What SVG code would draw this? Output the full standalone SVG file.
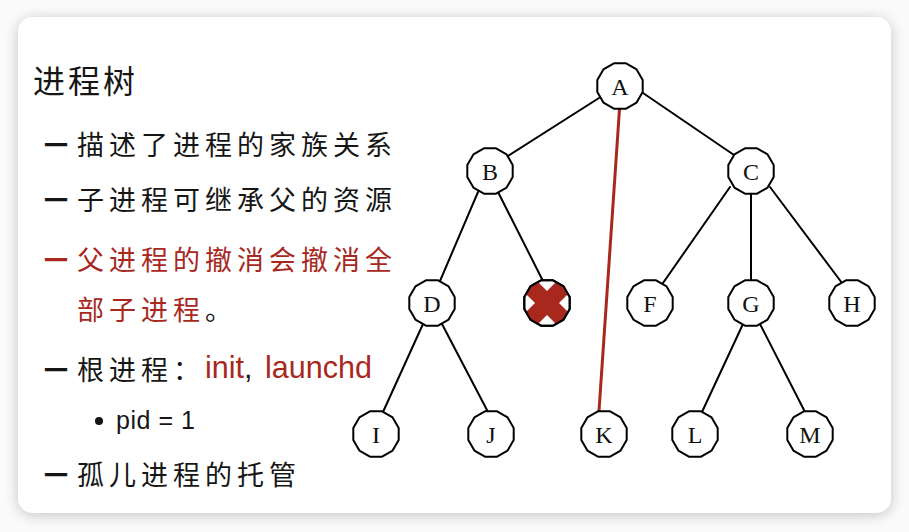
<svg xmlns="http://www.w3.org/2000/svg" xmlns:xlink="http://www.w3.org/1999/xlink" width="909" height="532" viewBox="0 0 909 532">
  <style>
    .cjk { font-family: "Noto Sans CJK SC", "Noto Sans", sans-serif; font-size: 27px; letter-spacing: 5px; fill: #161616; }
    .dash { font-family: "Noto Sans CJK SC", sans-serif; font-size: 24px; font-weight: 700; fill: #161616; }
    .latin { font-family: "Liberation Sans", Arial, sans-serif; fill: #161616; }
    .red { fill: #A8281E; }
    .edge { stroke: #000; stroke-width: 2; fill: none; stroke-linecap: round; }
    .node-shape { fill: #fff; stroke: #000; stroke-width: 2; stroke-linejoin: round; }
    .label { font-family: "Liberation Serif", "Times New Roman", serif; font-size: 24px; fill: #111; text-anchor: middle; }
  </style>
  <defs>
    <filter id="cardShadow" x="-10%" y="-10%" width="120%" height="120%">
      <feGaussianBlur in="SourceAlpha" stdDeviation="7"/>
      <feOffset dx="0" dy="2" result="blur"/>
      <feComponentTransfer><feFuncA type="linear" slope="0.22"/></feComponentTransfer>
      <feMerge><feMergeNode/><feMergeNode in="SourceGraphic"/></feMerge>
    </filter>
    <polygon id="dodecagon" points="22.7,6.1 16.6,16.6 6.1,22.7 -6.1,22.7 -16.6,16.6 -22.7,6.1 -22.7,-6.1 -16.6,-16.6 -6.1,-22.7 6.1,-22.7 16.6,-16.6 22.7,-6.1"/>
    <clipPath id="clipX">
      <polygon points="22.7,6.1 16.6,16.6 6.1,22.7 -6.1,22.7 -16.6,16.6 -22.7,6.1 -22.7,-6.1 -16.6,-16.6 -6.1,-22.7 6.1,-22.7 16.6,-16.6 22.7,-6.1"/>
    </clipPath>
  </defs>

  <!-- page and card -->
  <rect x="0" y="0" width="909" height="532" fill="#fafafa"/>
  <rect x="18" y="17" width="873" height="496" rx="15" ry="15" fill="#fff" filter="url(#cardShadow)"/>

  <!-- text column -->
  <g id="text-column">
    <text x="33" y="93" class="cjk" style="font-size:32px; letter-spacing:3px">进程树</text>

    <text x="44" y="154" class="dash">一</text>
    <text x="77" y="155" class="cjk">描述了进程的家族关系</text>

    <text x="44" y="209" class="dash">一</text>
    <text x="77" y="210" class="cjk">子进程可继承父的资源</text>

    <text x="44" y="269" class="dash red">一</text>
    <text x="77" y="270" class="cjk red">父进程的撤消会撤消全</text>
    <text x="77" y="320" class="cjk"><tspan class="red">部子进程</tspan>。</text>

    <text x="44" y="379" class="dash">一</text>
    <text x="77" y="380" class="cjk">根进程：</text>
    <text x="205" y="378" class="latin" style="font-size:30.5px"><tspan class="red">init</tspan>, <tspan x="265" class="red">launchd</tspan></text>

    <circle cx="99" cy="421" r="4" fill="#161616"/>
    <text x="116" y="429" class="latin" style="font-size:25px" textLength="79" lengthAdjust="spacing">pid = 1</text>

    <text x="44" y="484" class="dash">一</text>
    <text x="77" y="485" class="cjk">孤儿进程的托管</text>
  </g>

  <!-- connectors -->
  <g id="connectors">
    <line class="edge" x1="599" y1="98" x2="508" y2="156"/>
    <line class="edge" x1="643" y1="93" x2="734" y2="155"/>
    <line class="edge" x1="478" y1="192" x2="440" y2="281"/>
    <line class="edge" x1="498" y1="192" x2="543" y2="281"/>
    <line class="edge" x1="730" y1="187" x2="663" y2="283"/>
    <line class="edge" x1="751" y1="192" x2="751" y2="281"/>
    <line class="edge" x1="770" y1="187" x2="842" y2="283"/>
    <line class="edge" x1="423" y1="324" x2="383" y2="412"/>
    <line class="edge" x1="442" y1="324" x2="488" y2="412"/>
    <line class="edge" x1="743" y1="324" x2="702" y2="412"/>
    <line class="edge" x1="760" y1="324" x2="805" y2="412"/>
    <line x1="619.5" y1="109" x2="599" y2="411" stroke="#A8281E" stroke-width="3"/>
  </g>

  <!-- nodes -->
  <g id="node-A" transform="translate(620,86)"><use xlink:href="#dodecagon" class="node-shape"/><text class="label" y="9">A</text></g>
  <g id="node-B" transform="translate(490,171)"><use xlink:href="#dodecagon" class="node-shape"/><text class="label" y="9">B</text></g>
  <g id="node-C" transform="translate(751,171)"><use xlink:href="#dodecagon" class="node-shape"/><text class="label" y="9">C</text></g>
  <g id="node-D" transform="translate(432,303)"><use xlink:href="#dodecagon" class="node-shape"/><text class="label" y="9">D</text></g>
  <g id="node-E" transform="translate(547,303)">
    <use xlink:href="#dodecagon" class="node-shape"/>
    <g clip-path="url(#clipX)" stroke="#A8281E" stroke-width="17" stroke-linecap="butt">
      <line x1="-26" y1="-26" x2="26" y2="26"/>
      <line x1="26" y1="-26" x2="-26" y2="26"/>
    </g>
    <use xlink:href="#dodecagon" fill="none" stroke="#000" stroke-width="2" stroke-linejoin="round"/>
  </g>
  <g id="node-F" transform="translate(650,303)"><use xlink:href="#dodecagon" class="node-shape"/><text class="label" y="9">F</text></g>
  <g id="node-G" transform="translate(751,303)"><use xlink:href="#dodecagon" class="node-shape"/><text class="label" y="9">G</text></g>
  <g id="node-H" transform="translate(852,303)"><use xlink:href="#dodecagon" class="node-shape"/><text class="label" y="9">H</text></g>
  <g id="node-I" transform="translate(376,434)"><use xlink:href="#dodecagon" class="node-shape"/><text class="label" y="9">I</text></g>
  <g id="node-J" transform="translate(491,434)"><use xlink:href="#dodecagon" class="node-shape"/><text class="label" y="9">J</text></g>
  <g id="node-K" transform="translate(604,434)"><use xlink:href="#dodecagon" class="node-shape"/><text class="label" y="9">K</text></g>
  <g id="node-L" transform="translate(695,434)"><use xlink:href="#dodecagon" class="node-shape"/><text class="label" y="9">L</text></g>
  <g id="node-M" transform="translate(810,434)"><use xlink:href="#dodecagon" class="node-shape"/><text class="label" y="9">M</text></g>
</svg>
